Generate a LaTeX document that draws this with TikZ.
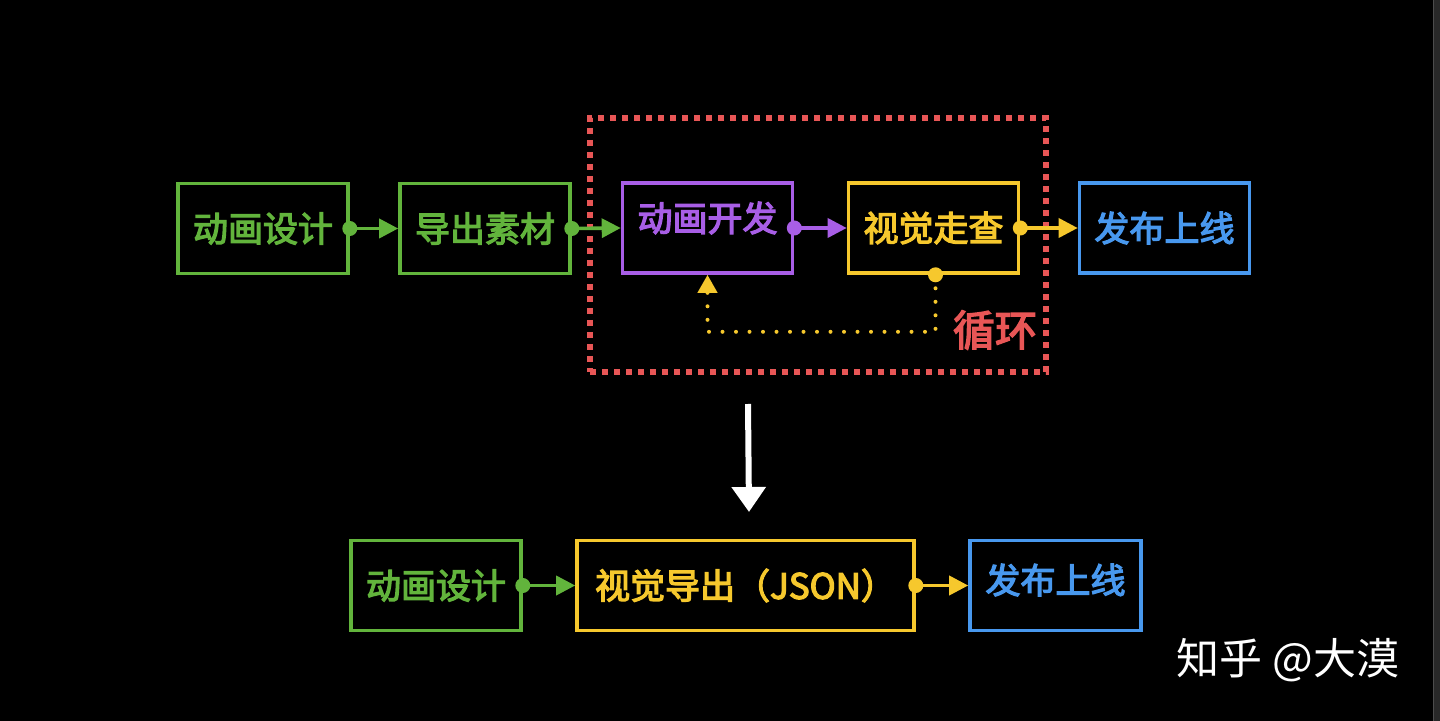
\documentclass[tikz,border=0pt]{standalone}
\usepackage{fontspec}
\setmainfont{Noto Sans CJK SC}
\newfontfamily\lblfont[FakeBold=3.5]{Noto Sans CJK SC}
\usetikzlibrary{arrows.meta,calc}
\definecolor{cgreen}{RGB}{98,180,60}
\definecolor{cpurple}{RGB}{168,94,230}
\definecolor{cyellow}{RGB}{246,200,45}
\definecolor{cblue}{RGB}{72,152,238}
\definecolor{cred}{RGB}{232,86,86}
\definecolor{cstrip}{RGB}{40,40,40}
\tikzset{
  lbl/.style={font=\fontsize{17.5}{17.5}\selectfont\lblfont},
  stepbox/.style={draw=#1, text=#1, line width=1.8pt, minimum width=85pt, minimum height=45pt, inner sep=0pt, lbl},
  conn/.style={draw=#1, line width=1.8pt, -{Triangle[length=9.5pt,width=9.5pt]}},
  dotc/.style={fill=#1},
  loopbox/.style={draw=cred, line width=2.6pt, dash pattern=on 3pt off 3pt, minimum width=228pt, minimum height=127pt, inner sep=0pt},
  feedback/.style={draw=cyellow, line width=2pt, line cap=round, dash pattern=on 0pt off 6.75pt,
    -{Triangle[length=9pt,width=9.5pt]}},
}
\begin{document}
\begin{tikzpicture}[x=0.5pt,y=-0.5pt]
\useasboundingbox (0,0) rectangle (1440,721);
\fill[black] (0,0) rectangle (1440,721);
\fill[cstrip] (1433,0) rectangle (1440,721);
\draw[black!70!white, line width=0.4pt] (1433.5,0) -- (1433.5,721);

% loop frame
\node[loopbox] (loop) at (818,245) {};

% top row
\node[stepbox=cgreen] (t1) at (263,228.5) {动画设计};
\node[stepbox=cgreen] (t2) at (485,228.5) {导出素材};
\node[stepbox=cpurple] (t3) at (707.5,228) {};
\node[text=cpurple, lbl] (t3l) at (707.5,218) {动画开发};
\node[stepbox=cyellow] (t4) at (933.5,228) {视觉走查};
\node[stepbox=cblue] (t5) at (1164.5,228) {发布上线};

\draw[conn=cgreen] (t1.east) -- (t2.west);
\fill[dotc=cgreen] (t1.east) circle (3.75pt);
\draw[conn=cgreen] (t2.east) -- (t3.west);
\fill[dotc=cgreen] (t2.east) circle (3.75pt);
\draw[conn=cpurple] (t3.east) -- (t4.west);
\fill[dotc=cpurple] (t3.east) circle (3.75pt);
\draw[conn=cyellow] (t4.east) -- (t5.west);
\fill[dotc=cyellow] (t4.east) circle (3.75pt);

% feedback loop
\coordinate (fbA) at ($(t4.south)+(2,0)$);
\coordinate (fbB) at ($(fbA)+(0,57)$);
\coordinate (fbC) at ($(t3.south)+(0,57)$);
\draw[feedback] (fbA) -- (fbB) -- (fbC) -- (t3.south);
\fill[dotc=cyellow] (fbA) circle (3.75pt);

\node[text=cred, font=\fontsize{21}{21}\selectfont\lblfont] (loopl) at (995,330) {循环};

% white arrow
\coordinate (wa1) at (748,404);
\coordinate (wa2) at (749,512);
\draw[white, line width=3pt, -{Triangle[length=12.5pt,width=16.5pt]}] (wa1) -- (wa2);

% bottom row
\node[stepbox=cgreen] (b1) at (436,585.5) {动画设计};
\node[stepbox=cyellow, minimum width=168.5pt] (b2) at (745.5,585.5) {视觉导出（JSON）};
\node[stepbox=cblue, minimum width=85.5pt] (b3) at (1055.5,585.5) {};
\node[text=cblue, lbl] (b3l) at (1055.5,580) {发布上线};

\draw[conn=cgreen] (b1.east) -- (b2.west);
\fill[dotc=cgreen] (b1.east) circle (3.75pt);
\draw[conn=cyellow] (b2.east) -- (b3.west);
\fill[dotc=cyellow] (b2.east) circle (3.75pt);

% watermark
\node[text=white, font=\fontsize{21.5}{21.5}\selectfont] (wm) at (1288,660) {知乎 @大漠};
\end{tikzpicture}
\end{document}
